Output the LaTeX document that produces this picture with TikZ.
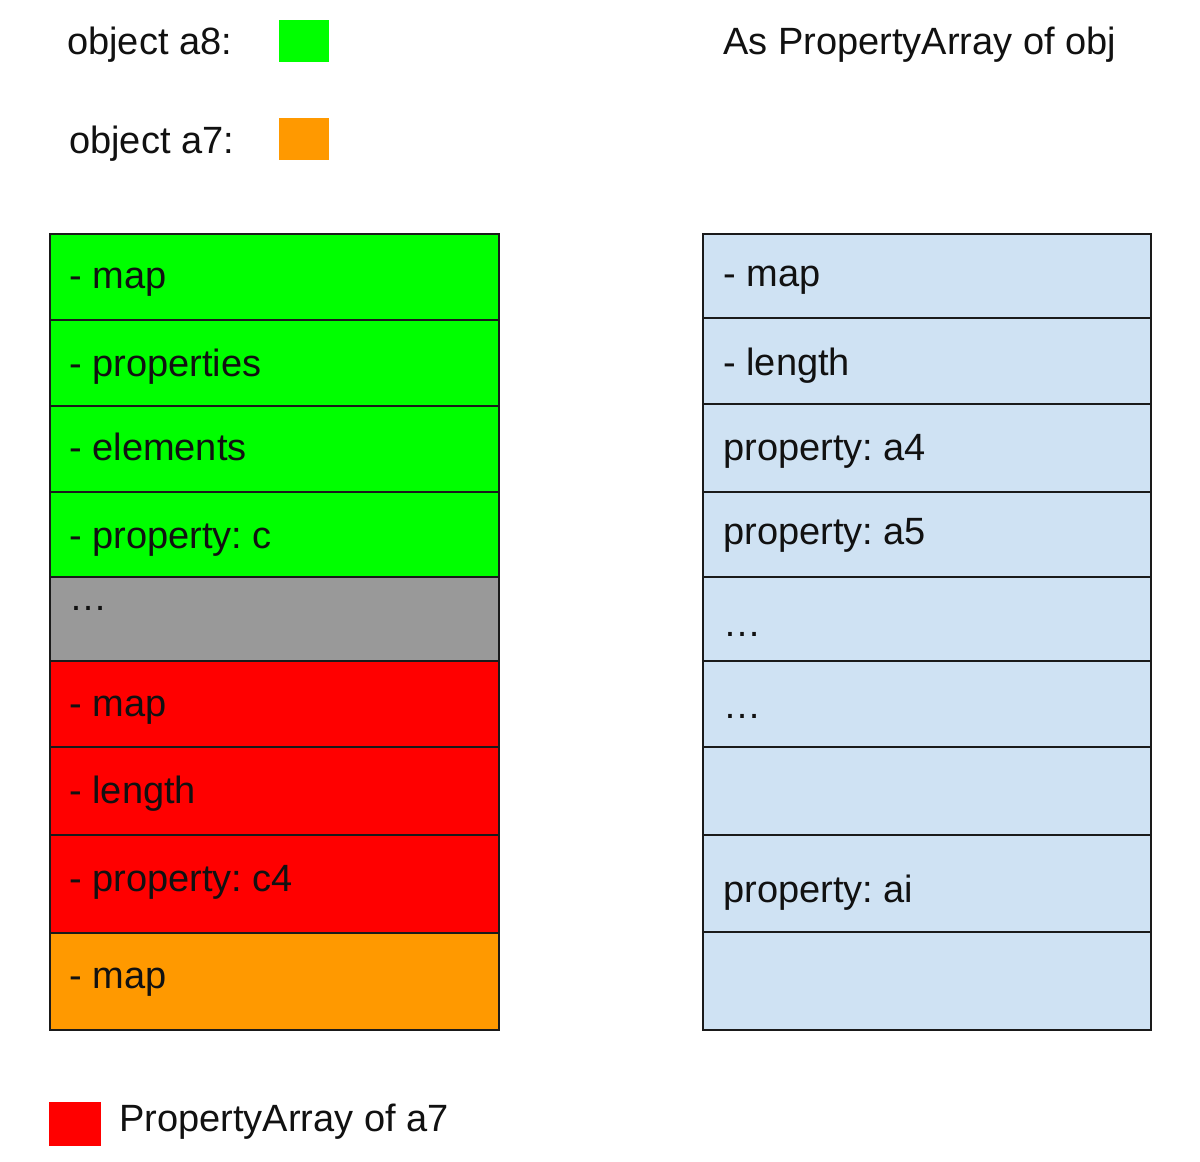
\documentclass[tikz,border=0pt]{standalone}
\usepackage{fontspec}
\setmainfont{Liberation Sans}
\frenchspacing
\definecolor{cgreen}{HTML}{00FF00}
\definecolor{corange}{HTML}{FF9900}
\definecolor{cred}{HTML}{FF0000}
\definecolor{cgray}{HTML}{999999}
\definecolor{cblue}{HTML}{CFE2F3}
\definecolor{ctext}{HTML}{111111}
\definecolor{cline}{HTML}{1A1A1A}
\tikzset{
  celltext/.style={anchor=base west, inner sep=0pt, text=ctext, font=\fontsize{28.5}{34}\selectfont},
  cellline/.style={draw=cline, line width=1.1pt},
  swatch/.style={draw=none}
}
\begin{document}
\begin{tikzpicture}[x=0.75pt, y=-0.75pt]
\useasboundingbox[fill=white] (0,0) rectangle (1200,1161);
% legend
\node[celltext] (la8) at (67,54) {object a8:};
\node[celltext] (la7) at (69,153) {object a7:};
\fill[cgreen] (279,20) rectangle (329,62);
\fill[corange] (279,118) rectangle (329,160);
\node[celltext] (title) at (723,54) {As PropertyArray of obj};
% left column
\path[cellline, fill=cgreen] (50,234) rectangle (499,320);
\path[cellline, fill=cgreen] (50,320) rectangle (499,406);
\path[cellline, fill=cgreen] (50,406) rectangle (499,492);
\path[cellline, fill=cgreen] (50,492) rectangle (499,577);
\path[cellline, fill=cgray] (50,577) rectangle (499,661);
\path[cellline, fill=cred] (50,661) rectangle (499,747);
\path[cellline, fill=cred] (50,747) rectangle (499,835);
\path[cellline, fill=cred] (50,835) rectangle (499,933);
\path[cellline, fill=corange] (50,933) rectangle (499,1030);
\node[celltext] (l1) at (69,288) {- map};
\node[celltext] (l2) at (69,376) {- properties};
\node[celltext] (l3) at (69,460) {- elements};
\node[celltext] (l4) at (69,548) {- property: c};
\node[celltext] (l5) at (69,610) {…};
\node[celltext] (l6) at (69,716) {- map};
\node[celltext] (l7) at (69,803) {- length};
\node[celltext] (l8) at (69,891) {- property: c4};
\node[celltext] (l9) at (69,988) {- map};
% right column
\path[cellline, fill=cblue] (703,234) rectangle (1151,318);
\path[cellline, fill=cblue] (703,318) rectangle (1151,404);
\path[cellline, fill=cblue] (703,404) rectangle (1151,492);
\path[cellline, fill=cblue] (703,492) rectangle (1151,577);
\path[cellline, fill=cblue] (703,577) rectangle (1151,661);
\path[cellline, fill=cblue] (703,661) rectangle (1151,747);
\path[cellline, fill=cblue] (703,747) rectangle (1151,835);
\path[cellline, fill=cblue] (703,835) rectangle (1151,932);
\path[cellline, fill=cblue] (703,932) rectangle (1151,1030);
\node[celltext] (r1) at (723,286) {- map};
\node[celltext] (r2) at (723,375) {- length};
\node[celltext] (r3) at (723,460) {property: a4};
\node[celltext] (r4) at (723,544) {property: a5};
\node[celltext] (r5) at (723,636) {…};
\node[celltext] (r6) at (723,718) {…};
\node[celltext] (r8) at (723,902) {property: ai};
% bottom legend
\fill[cred] (49,1102) rectangle (101,1146);
\node[celltext] (lpa) at (119,1131) {PropertyArray of a7};
\end{tikzpicture}
\end{document}
